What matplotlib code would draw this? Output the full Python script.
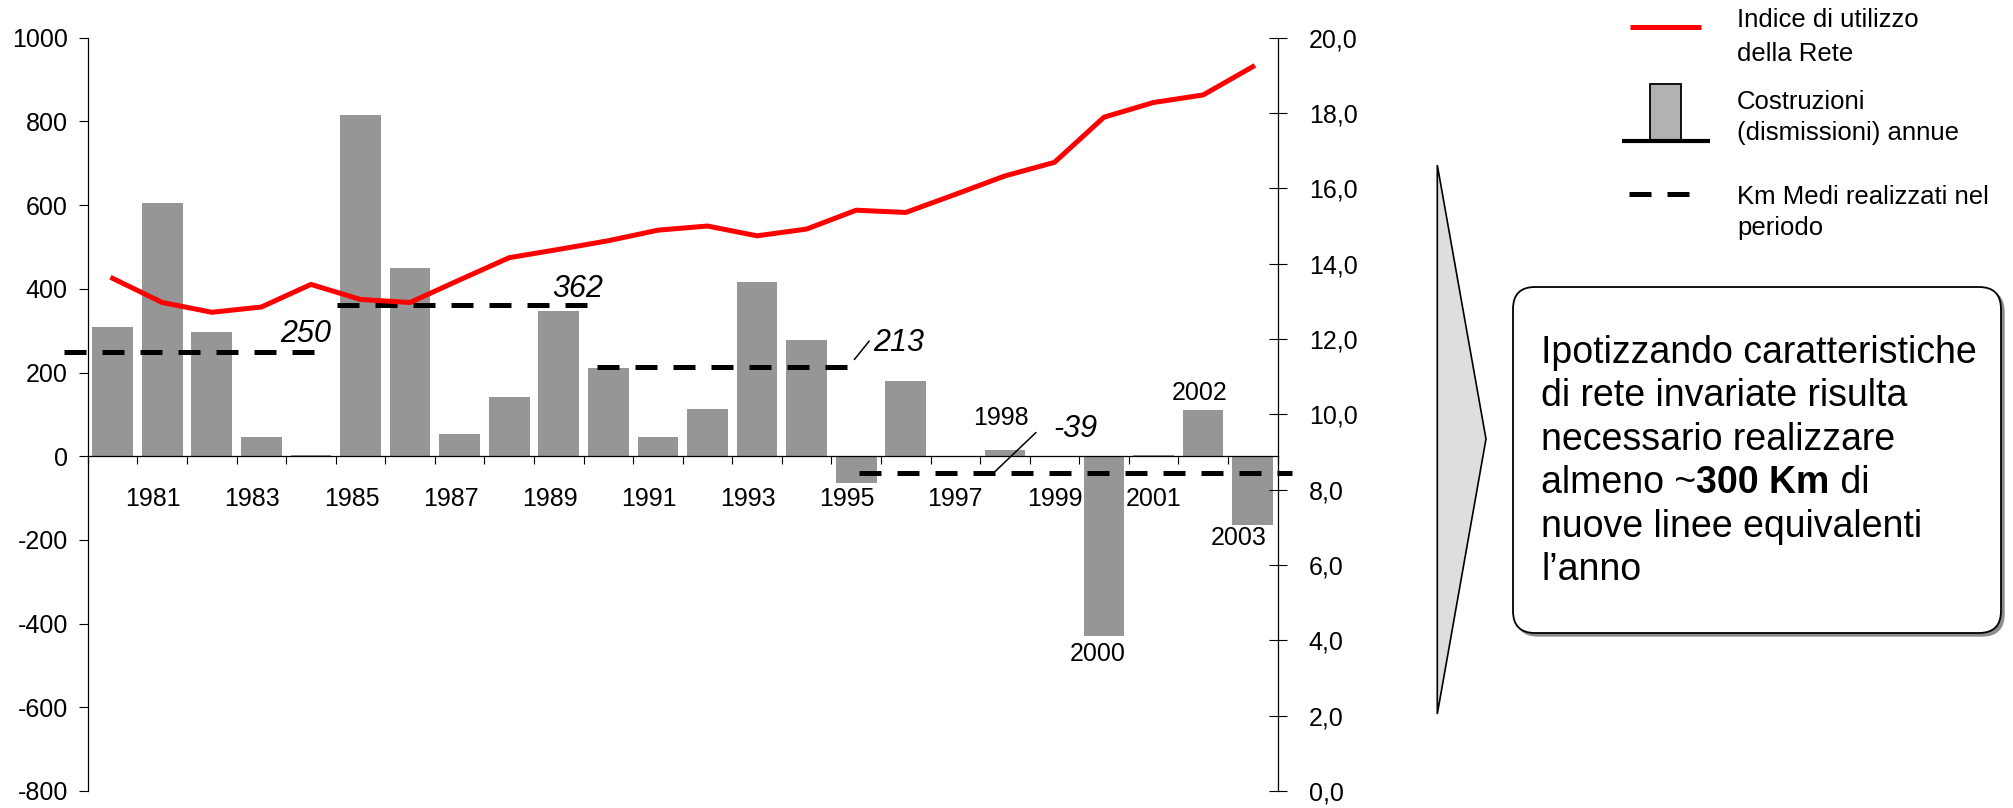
import numpy as np
import matplotlib
matplotlib.use("Agg")
import matplotlib.pyplot as plt
from matplotlib.patches import Polygon, FancyBboxPatch, Rectangle
from matplotlib.transforms import ScaledTranslation

plt.rcParams['font.family'] = ['Liberation Sans', 'DejaVu Sans']
plt.rcParams['axes.unicode_minus'] = False

# dati
anni = list(range(1980, 2004))
km_annui = [308, 605, 296, 45, 3, 815, 449, 53, 141, 347, 210, 45, 112, 416, 277,
            -64, 179, 0, 14, -2, -430, 2, 110, -165]
indice_rete = [13.61, 12.97, 12.71, 12.85, 13.45, 13.05, 12.97, 13.57, 14.16, 14.38,
               14.61, 14.89, 15.00, 14.74, 14.92, 15.42, 15.36, 15.84, 16.33, 16.69,
               17.89, 18.28, 18.48, 19.23]
periodo_inizio = [1980, 1985, 1990, 1995]
periodo_fine = [1984, 1989, 1994, 2003]
km_medi = [250, 362, 213, -39]
anni_asse = [1981, 1983, 1985, 1987, 1989, 1991, 1993, 1995, 1997, 1999, 2001]
anni_evidenziati = [1998, 2000, 2002, 2003]
legenda = [["Indice di utilizzo", "della Rete"],
           ["Costruzioni", "(dismissioni) annue"],
           ["Km Medi realizzati nel", "periodo"]]
testo_box = ["Ipotizzando caratteristiche",
             "di rete invariate risulta",
             "necessario realizzare",
             None,
             "nuove linee equivalenti",
             "l\u2019anno"]

W, H = 2013, 808
fig = plt.figure(figsize=(W / 100, H / 100), dpi=100)

ax = fig.add_axes([87.9 / W, 1 - 791 / H, (1277.5 - 87.9) / W, (791 - 37.7) / H])
x = np.arange(len(anni))
ax.bar(x, km_annui, width=0.82, color='#969696', zorder=1)
ax.set_xlim(-0.5, len(anni) - 0.5)
ax.set_ylim(-800, 1000)
ax.set_yticks(range(-800, 1001, 200))
ax.spines['bottom'].set_position(('data', 0))
ax.spines['top'].set_visible(False)
ax.spines['right'].set_visible(False)
for s in ['left', 'bottom']:
    ax.spines[s].set_linewidth(0.9)
ax.tick_params(axis='y', direction='out', length=6.5, width=0.8, pad=8, labelsize=18)

ax.set_xticks([anni.index(a) for a in anni_asse])
ax.set_xticklabels([str(a) for a in anni_asse])
ax.set_xticks(np.arange(-0.5, len(anni)), minor=True)
ax.tick_params(axis='x', which='major', length=0, pad=22, labelsize=18)
ax.tick_params(axis='x', which='minor', direction='out', length=5.8, width=0.8)
for lab, a in zip(ax.get_xticklabels(), anni_asse):
    if a <= 1995:
        lab.set_transform(lab.get_transform() + ScaledTranslation(-0.09, 0, fig.dpi_scale_trans))

# medie di periodo
estensioni = [(-0.48, -0.4), (0.03, 0.07), (0.28, 0.34), (0.56, 0.8)]
fine_linee = []
for a0, a1, v, (p0, p1) in zip(periodo_inizio, periodo_fine, km_medi, estensioni):
    x0 = anni.index(a0) - 0.5 + p0
    x1 = anni.index(a1) + 0.5 + p1
    if a1 == anni[-1]:
        x1 = anni.index(a1) + 0.8
    ax.plot([x0, x1], [v, v], color='black', lw=3.6, linestyle=(0, (4.4, 3.2)),
            dash_capstyle='butt', clip_on=False, zorder=4)
    fine_linee.append(anni.index(a1) + 0.5 + p1)

etichetta_kw = dict(textcoords='offset pixels', ha='center', va='center',
                    fontsize=22, style='italic', annotation_clip=False)
ax.annotate(str(km_medi[0]), xy=(fine_linee[0], km_medi[0]), xytext=(-10, 18), **etichetta_kw)
ax.annotate(str(km_medi[1]), xy=(fine_linee[1], km_medi[1]), xytext=(-9, 16), **etichetta_kw)
ax.annotate(str(km_medi[2]), xy=(fine_linee[2], km_medi[2]), xytext=(50, 24), **etichetta_kw)
ax.annotate('', xy=(fine_linee[2], km_medi[2]), xytext=(21, 26), textcoords='offset pixels',
            arrowprops=dict(arrowstyle='-', lw=1.1, color='black', shrinkA=0, shrinkB=7))
i98 = anni.index(1998)
ax.annotate(str(km_medi[3]), xy=(i98, km_medi[3]), xytext=(71, 44), **etichetta_kw)
ax.annotate('', xy=(i98 - 0.22, km_medi[3]), xytext=(42, 40), textcoords='offset pixels',
            arrowprops=dict(arrowstyle='-', lw=1.1, color='black', shrinkA=0, shrinkB=0))

# anni evidenziati
spost = {1998: (-4, 32), 2000: (-6, -18), 2002: (-4, 17), 2003: (-14, -13)}
for a in anni_evidenziati:
    i = anni.index(a)
    ax.annotate(str(a), xy=(i, km_annui[i]), xytext=spost[a], textcoords='offset pixels',
                ha='center', va='center', fontsize=18, annotation_clip=False)

# indice di utilizzo
ax2 = ax.twinx()
ax2.set_position(ax.get_position())
ax2.plot(x, indice_rete, color='#ff0000', lw=3.6, zorder=3)
ax2.set_ylim(0, 20)
ax2.set_yticks(range(0, 21, 2))
ax2.set_yticklabels([f"{v:.1f}".replace('.', ',') for v in range(0, 21, 2)])
for s in ['left', 'top', 'bottom']:
    ax2.spines[s].set_visible(False)
ax2.spines['right'].set_linewidth(0.9)
ax2.tick_params(axis='y', direction='inout', length=13, width=0.8, pad=16, labelsize=18)

# legenda, freccia e riquadro
ov = fig.add_axes([0, 0, 1, 1])
ov.set_xlim(0, W)
ov.set_ylim(H, 0)
ov.axis('off')

ov.plot([1630, 1701], [26.7, 26.7], color='#ff0000', lw=3.6, solid_capstyle='butt')
ov.add_patch(Rectangle((1650, 84), 31, 56, facecolor='#b2b2b2', edgecolor='black', lw=1.3))
ov.plot([1622, 1710], [141, 141], color='black', lw=3, solid_capstyle='butt')
ov.plot([1629, 1689], [194, 194], color='black', lw=3.6, linestyle=(0, (4.4, 3.2)),
        dash_capstyle='butt')
basi = [(26.7, 60.7), (108.7, 140), (204, 235)]
for righe, ys in zip(legenda, basi):
    for r, yb in zip(righe, ys):
        ov.text(1737, yb, r, fontsize=18.5, va='baseline', ha='left')

ov.add_patch(Polygon([(1437.3, 165), (1486, 439), (1437.3, 714)], closed=True,
                     facecolor='#dedede', edgecolor='black', lw=1.2))

ov.add_patch(FancyBboxPatch((1516, 290), 488, 346, boxstyle='round,pad=0,rounding_size=22',
                            facecolor='#8c8c8c', edgecolor='#8c8c8c', lw=1))
ov.add_patch(FancyBboxPatch((1513, 287), 488, 346, boxstyle='round,pad=0,rounding_size=22',
                            facecolor='white', edgecolor='black', lw=1.3))
for k, riga in enumerate(testo_box):
    yb = 363 + 43.4 * k
    if riga is None:
        t1 = ov.text(1541, yb, "almeno ~", fontsize=27, va='baseline', ha='left')
        t2 = ov.annotate("300 Km", xy=(1, 0), xycoords=t1, va='bottom', ha='left',
                         fontsize=27, fontweight='bold')
        ov.annotate(" di", xy=(1, 0), xycoords=t2, va='bottom', ha='left', fontsize=27)
    else:
        ov.text(1541, yb, riga, fontsize=27, va='baseline', ha='left')

fig.savefig('out.png', dpi=100)
